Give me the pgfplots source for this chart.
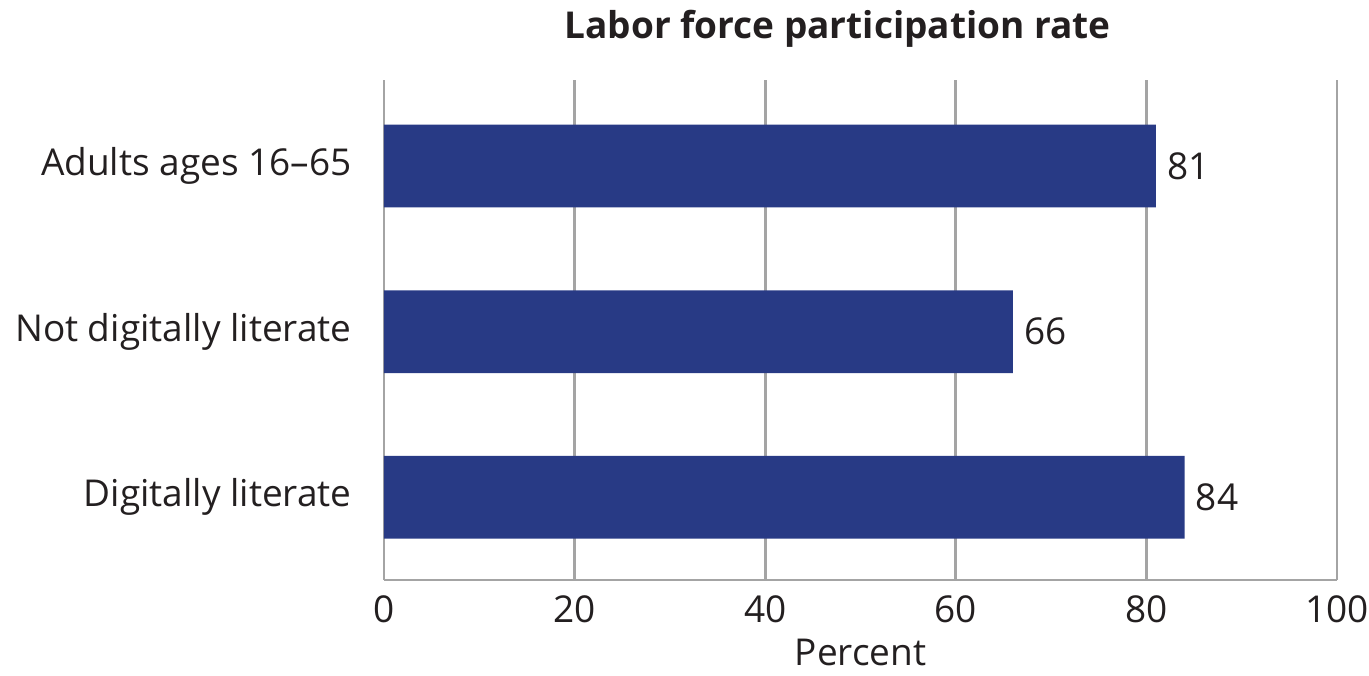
\documentclass[border=0pt]{standalone}
\usepackage{pgfplots}
\pgfplotsset{compat=1.18}
\usepackage{fontspec}
\setmainfont{Open Sans}
\definecolor{barblue}{HTML}{283A85}
\definecolor{gridgray}{HTML}{A4A4A4}
\definecolor{txt}{HTML}{231F20}
\newcommand{\lbl}{\fontsize{18.5}{22}\selectfont}
\begin{document}
\begin{tikzpicture}
\useasboundingbox (-192pt,-47.5pt) rectangle (492.5pt,290pt);
\begin{axis}[
  scale only axis, width=476.5pt, height=250pt,
  xbar, bar width=0.5,
  xmin=0, xmax=100, ymin=-0.52, ymax=2.5, y dir=reverse,
  xtick={0,20,...,100}, ytick={0,1,2},
  yticklabels={Adults ages 16--65, Not digitally literate, Digitally literate},
  axis x line*=bottom, axis y line*=left,
  axis line style={gridgray, line width=1.4pt, -},
  xmajorgrids, major grid style={gridgray, line width=1.4pt},
  major tick length=0pt,
  tick label style={font=\lbl, text=txt},
  /pgf/number format/assume math mode=true,
  xticklabel style={anchor=base, yshift=-21pt},
  yticklabel style={anchor=east, inner sep=0pt, xshift=-16pt},
  xlabel={Percent},
  xlabel style={font=\lbl, text=txt, inner sep=0pt, at={(axis description cs:0.5,0)}, anchor=base, yshift=-42.5pt},
  title={Labor force participation rate},
  title style={font=\lbl\bfseries, text=txt, at={(axis description cs:0.476,1)}, anchor=base, yshift=15pt},
  nodes near coords,
  nodes near coords style={font=\lbl, text=txt, inner sep=0pt, anchor=west, xshift=5.5pt},
]
\addplot[fill=barblue, draw=none] coordinates {(81,0) (66,1) (84,2)};
\end{axis}
\end{tikzpicture}
\end{document}
